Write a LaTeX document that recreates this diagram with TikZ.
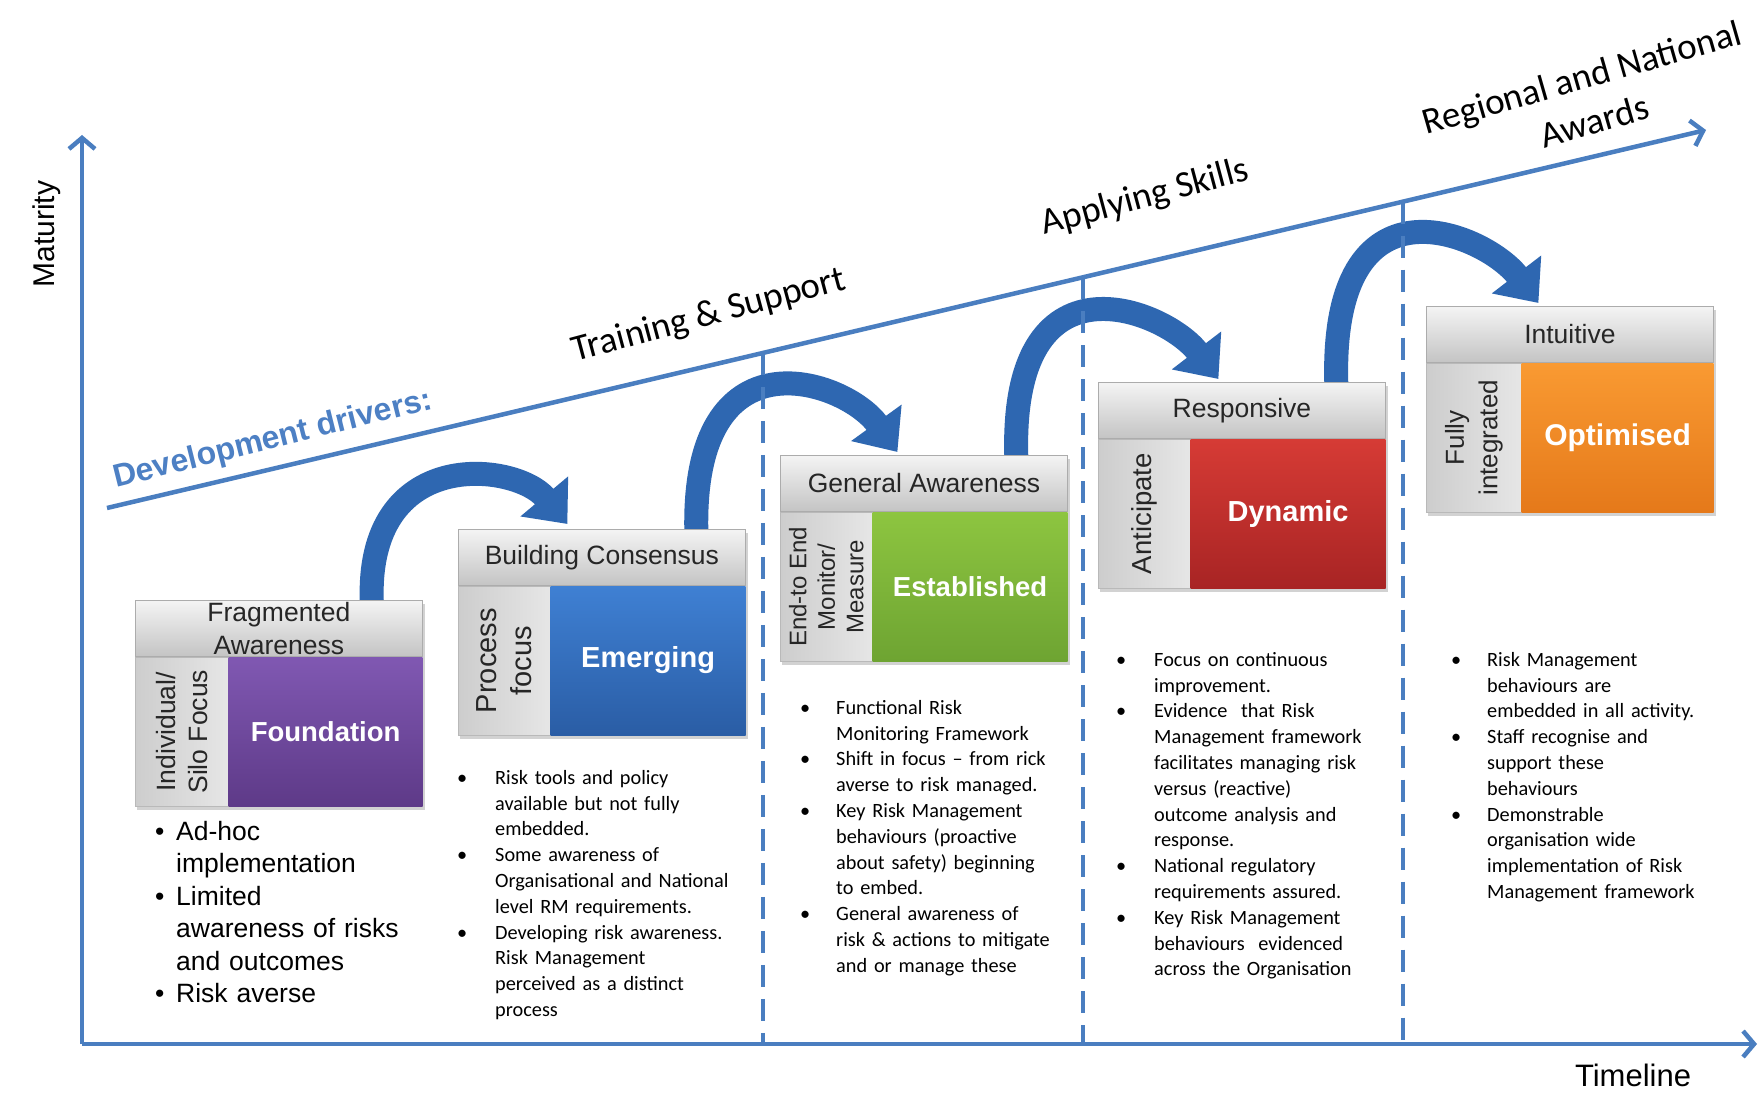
\documentclass[tikz,border=0pt]{standalone}
\usepackage{fontspec}
\setmainfont{Carlito}
\newfontfamily\arialfont{Liberation Sans}
\usetikzlibrary{arrows.meta,calc,shadows}
\pgfdeclarelayer{background}
\pgfsetlayers{background,main}

\definecolor{axisblue}{HTML}{4A7EC0}
\definecolor{jumpblue}{HTML}{2E67B1}
\definecolor{driverblue}{HTML}{4D80C4}
\definecolor{hdrtop}{HTML}{F4F4F4}
\definecolor{hdrbot}{HTML}{C4C4C4}
\definecolor{sideL}{HTML}{CDCDCD}
\definecolor{sideR}{HTML}{E6E6E6}
\definecolor{purpleT}{HTML}{8058B2}
\definecolor{purpleB}{HTML}{5E3A88}
\definecolor{blueT}{HTML}{3F80D3}
\definecolor{blueB}{HTML}{2A5DA5}
\definecolor{greenT}{HTML}{8DC540}
\definecolor{greenB}{HTML}{6EA432}
\definecolor{redT}{HTML}{D63B35}
\definecolor{redB}{HTML}{A82424}
\definecolor{orangeT}{HTML}{F99A32}
\definecolor{orangeB}{HTML}{E5791A}

% one bullet point with a hanging indent of #1
\newcommand\bul[1]{\hangindent=#1\hangafter=1\noindent\makebox[#1][l]{\textbullet}\ignorespaces}
\newcommand\bodyfont{\fontsize{20.3}{25.8}\selectfont}
\newcommand\listfont{\arialfont\fontsize{26.5}{32.5}\selectfont}

\begin{document}
\begin{tikzpicture}[x=1pt,y=-1pt,
  axis/.style={draw=axisblue, line width=4.5pt, -{Straight Barb[length=11pt,width=26pt]}},
  dashguide/.style={draw=axisblue, line width=4.5pt, dash pattern=on 22pt off 12pt},
  hdr/.style={draw=gray!65, line width=0.8pt, top color=hdrtop, bottom color=hdrbot,
    minimum width=287pt, minimum height=56pt, inner sep=0pt, anchor=north west},
  hdrtxt/.style={inner sep=0pt, align=center, text=black!85,
    font=\arialfont\fontsize{26.5}{33}\selectfont},
  sidep/.style={draw=gray!55, line width=0.8pt, left color=sideL, right color=sideR,
    minimum width=#1, minimum height=149pt, inner sep=0pt, anchor=north west},
  sidetxt/.style={rotate=90, inner sep=0pt, align=center, text=black!85},
  core/.style={minimum width=#1, minimum height=149pt, inner sep=0pt, anchor=north east,
    text=white, font=\arialfont\bfseries\fontsize{29}{34}\selectfont},
  bul/.style={anchor=north west, inner sep=0pt, text width=#1, align=left},
  jump/.style={draw=jumpblue, line width=24pt, -{Triangle[length=36pt,width=60pt]}},
  driver/.style={inner sep=0pt, font=\fontsize{37}{46}\selectfont},
  boxshadow/.style={fill=white, drop shadow={shadow xshift=2pt, shadow yshift=-4pt, opacity=0.35}}
]
\begin{pgfonlayer}{background}
  \fill[white] (0,0) rectangle (1760,1094);
\end{pgfonlayer}
\useasboundingbox (0,0) rectangle (1760,1094);

% axes
\coordinate (org) at (82,1044);
\coordinate (ytop) at (82,135);
\coordinate (xend) at (1757,1044);
\draw[axis] (org) -- (ytop);
\draw[axis] (org) -- (xend);
\node[inner sep=0pt, rotate=90, font=\arialfont\fontsize{30}{34}\selectfont] (mat) at (47,234) {Maturity};
\node[inner sep=0pt, font=\arialfont\fontsize{31}{34}\selectfont] (tline) at (1633,1075) {Timeline};

% development drivers line
\coordinate (dl0) at (107,508);
\coordinate (dl1) at (1706,130);
\draw[axis] (dl0) -- (dl1);
\coordinate (dA) at ($(dl0)!0.4103!(dl1)$);
\coordinate (dB) at ($(dl0)!0.6104!(dl1)$);
\coordinate (dC) at ($(dl0)!0.8105!(dl1)$);
\draw[dashguide] (dA) -- (dA |- org);
\draw[dashguide] (dB) -- (dB |- org);
\draw[dashguide] (dC) -- (dC |- org);

\node[inner sep=0pt, rotate=14, text=driverblue, font=\arialfont\bfseries\fontsize{32}{36}\selectfont] (drv) at (273,440) {Development drivers:};
\node[driver, rotate=15] (d1) at (709,316) {Training \& Support};
\node[driver, rotate=15] (d2) at (1145,198) {Applying Skills};
\node[driver, rotate=16, align=center] (d3) at (1588,99) {Regional and National\\Awards};

% stage 1
\node[hdr] (h1) at (135,600) {};
\node[hdrtxt] (ht1) at (h1.center) {Fragmented\\Awareness};
\node[sidep=93pt] (s1) at (h1.south west) {};
\node[sidetxt, font=\arialfont\fontsize{26.5}{32}\selectfont] (st1) at (s1.center) {Individual/\\Silo Focus};
\node[core=194pt, top color=purpleT, bottom color=purpleB, font=\arialfont\bfseries\fontsize{27.5}{34}\selectfont] (c1) at (h1.south east) {Foundation};

% stage 2
\node[hdr] (h2) at (458,529) {};
\node[hdrtxt] (ht2) at (h2.center) {Building Consensus};
\node[sidep=92pt] (s2) at (h2.south west) {};
\node[sidetxt, font=\arialfont\fontsize{29}{35}\selectfont] (st2) at (s2.center) {Process\\focus};
\node[core=195pt, top color=blueT, bottom color=blueB] (c2) at (h2.south east) {Emerging};

% stage 3
\node[hdr] (h3) at (780,455) {};
\node[hdrtxt] (ht3) at (h3.center) {General Awareness};
\node[sidep=92pt] (s3) at (h3.south west) {};
\node[sidetxt, font=\arialfont\fontsize{24}{28.5}\selectfont] (st3) at (s3.center) {End-to End\\Monitor/\\Measure};
\node[core=195pt, top color=greenT, bottom color=greenB, font=\arialfont\bfseries\fontsize{27.5}{34}\selectfont] (c3) at (h3.south east) {Established};

% stage 4
\node[hdr] (h4) at (1098,382) {};
\node[hdrtxt] (ht4) at (h4.center) {Responsive};
\node[sidep=92pt] (s4) at (h4.south west) {};
\node[sidetxt, font=\arialfont\fontsize{27.5}{33}\selectfont] (st4) at (s4.center) {Anticipate};
\node[core=195pt, top color=redT, bottom color=redB] (c4) at (h4.south east) {Dynamic};

% stage 5
\node[hdr] (h5) at (1426,306) {};
\node[hdrtxt] (ht5) at (h5.center) {Intuitive};
\node[sidep=95pt] (s5) at (h5.south west) {};
\node[sidetxt, font=\arialfont\fontsize{26}{33.5}\selectfont] (st5) at (s5.center) {Fully\\integrated};
\node[core=192pt, top color=orangeT, bottom color=orangeB, font=\arialfont\bfseries\fontsize{30}{34}\selectfont] (c5) at (h5.south east) {Optimised};

% shadows and jump arrows behind the boxes
\begin{pgfonlayer}{background}
  \foreach \i in {1,...,5} {
    \path[boxshadow] (h\i.north west) rectangle (c\i.south east);
  }
  \draw[jump] ($(h1.north)+(93,4)$) .. controls +(-7.5,-159) and +(-52,-62) .. ($(h2.north)+(-34.5,-5)$);
  \draw[jump] ($(h2.north)+(94.5,5)$) .. controls +(-6,-208) and +(-52,-72) .. ($(h3.north)+(-26.5,-3)$);
  \draw[jump] ($(h3.north)+(92.5,5)$) .. controls +(-8,-215) and +(-53,-69) .. ($(h4.north)+(-23.5,-3)$);
  \draw[jump] ($(h4.north)+(94.5,5)$) .. controls +(-8,-222) and +(-53,-69) .. ($(h5.north)+(-31.5,-3)$);
\end{pgfonlayer}

% descriptions
\node[bul=300pt, font=\listfont] (t1) at (155,821) {%
\bul{21pt}Ad-hoc\newline implementation\par
\bul{21pt}Limited\newline awareness of risks\newline and outcomes\par
\bul{21pt}Risk averse\par};

\node[bul=300pt, font=\bodyfont] (t2) at (457,770) {%
\bul{38pt}Risk tools and policy\newline available but not fully\newline embedded.\par
\bul{38pt}Some awareness of\newline Organisational and National\newline level RM requirements.\par
\bul{38pt}Developing risk awareness.\newline Risk Management\newline perceived as a distinct\newline process\par};

\node[bul=300pt, font=\bodyfont] (t3) at (800,700) {%
\bul{36pt}Functional Risk\newline Monitoring Framework\par
\bul{36pt}Shift in focus -- from rick\newline averse to risk managed.\par
\bul{36pt}Key Risk Management\newline behaviours (proactive\newline about safety) beginning\newline to embed.\par
\bul{36pt}General awareness of\newline risk \& actions to mitigate\newline and or manage these\par};

\node[bul=300pt, font=\bodyfont] (t4) at (1116,652) {%
\bul{38pt}Focus on continuous\newline improvement.\par
\bul{38pt}Evidence\ \ that Risk\newline Management framework\newline facilitates managing risk\newline versus (reactive)\newline outcome analysis and\newline response.\par
\bul{38pt}National regulatory\newline requirements assured.\par
\bul{38pt}Key Risk Management\newline behaviours\ \ evidenced\newline across the Organisation\par};

\node[bul=300pt, font=\bodyfont] (t5) at (1451,652) {%
\bul{36pt}Risk Management\newline behaviours are\newline embedded in all activity.\par
\bul{36pt}Staff recognise and\newline support these\newline behaviours\par
\bul{36pt}Demonstrable\newline organisation wide\newline implementation of Risk\newline Management framework\par};
\end{tikzpicture}
\end{document}
